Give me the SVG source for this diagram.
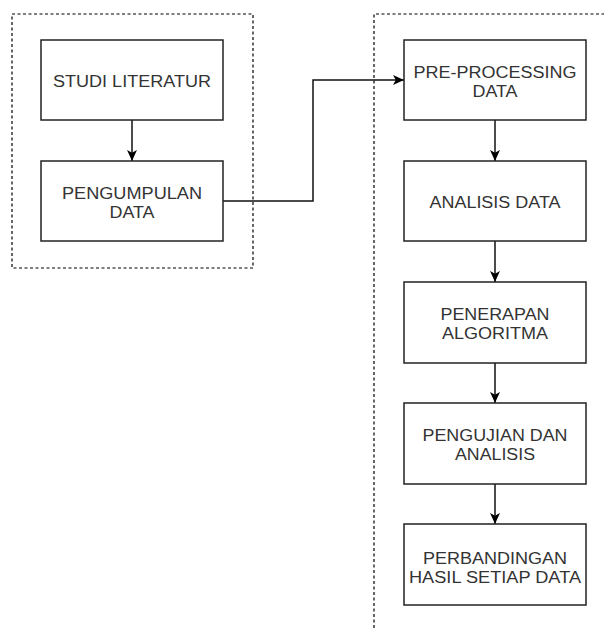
<svg xmlns="http://www.w3.org/2000/svg" width="604" height="628" viewBox="0 0 604 628">
  <style>
    .frame { fill: none; stroke: #000; stroke-width: 1.2; stroke-dasharray: 3 2.5; }
    .box { fill: #fff; stroke: #222; stroke-width: 1.5; }
    .lbl { font-family: "Liberation Sans", Arial, Helvetica, sans-serif; font-size: 16px; fill: #333; text-anchor: middle; }
    .edge { fill: none; stroke: #111; stroke-width: 1.5; marker-end: url(#arrow); }
  </style>
  <defs>
    <marker id="arrow" viewBox="0 0 10 10" refX="10" refY="5" markerWidth="11" markerHeight="11" markerUnits="userSpaceOnUse" orient="auto">
      <path d="M0,0.5 L10,5 L0,9.5 L2.5,5 z" fill="#000"/>
    </marker>
  </defs>
  <rect width="604" height="628" fill="#fff"/>

  <g id="frames">
    <rect class="frame" x="12" y="14" width="241" height="254"/>
    <path class="frame" d="M374,628 L374,14 L604,14"/>
  </g>

  <g id="connectors">
    <path class="edge" d="M132,120 L132,161"/>
    <path class="edge" d="M223,201 L313,201 L313,80 L404,80"/>
    <path class="edge" d="M495,120 L495,161"/>
    <path class="edge" d="M495,241 L495,282"/>
    <path class="edge" d="M495,363 L495,403"/>
    <path class="edge" d="M495,484 L495,524"/>
  </g>

  <g id="studi-literatur">
    <rect class="box" x="41" y="40" width="182" height="80"/>
    <text class="lbl" x="132" y="87" textLength="158" lengthAdjust="spacingAndGlyphs">STUDI LITERATUR</text>
  </g>
  <g id="pengumpulan-data">
    <rect class="box" x="41" y="161" width="182" height="80"/>
    <text class="lbl" x="132" y="199" textLength="140" lengthAdjust="spacingAndGlyphs">PENGUMPULAN</text>
    <text class="lbl" x="132" y="218" textLength="45" lengthAdjust="spacingAndGlyphs">DATA</text>
  </g>

  <g id="pre-processing">
    <rect class="box" x="404" y="40" width="182" height="80"/>
    <text class="lbl" x="495" y="78" textLength="163" lengthAdjust="spacingAndGlyphs">PRE-PROCESSING</text>
    <text class="lbl" x="495" y="97" textLength="45" lengthAdjust="spacingAndGlyphs">DATA</text>
  </g>
  <g id="analisis-data">
    <rect class="box" x="404" y="161" width="182" height="80"/>
    <text class="lbl" x="495" y="208" textLength="131" lengthAdjust="spacingAndGlyphs">ANALISIS DATA</text>
  </g>
  <g id="penerapan-algoritma">
    <rect class="box" x="404" y="282" width="182" height="81"/>
    <text class="lbl" x="495" y="320" textLength="109" lengthAdjust="spacingAndGlyphs">PENERAPAN</text>
    <text class="lbl" x="495" y="339" textLength="106" lengthAdjust="spacingAndGlyphs">ALGORITMA</text>
  </g>
  <g id="pengujian-analisis">
    <rect class="box" x="404" y="403" width="182" height="81"/>
    <text class="lbl" x="495" y="441" textLength="145" lengthAdjust="spacingAndGlyphs">PENGUJIAN DAN</text>
    <text class="lbl" x="495" y="460" textLength="80" lengthAdjust="spacingAndGlyphs">ANALISIS</text>
  </g>
  <g id="perbandingan">
    <rect class="box" x="404" y="524" width="182" height="81"/>
    <text class="lbl" x="495" y="564" textLength="144" lengthAdjust="spacingAndGlyphs">PERBANDINGAN</text>
    <text class="lbl" x="495" y="583" textLength="172" lengthAdjust="spacingAndGlyphs">HASIL SETIAP DATA</text>
  </g>
</svg>
